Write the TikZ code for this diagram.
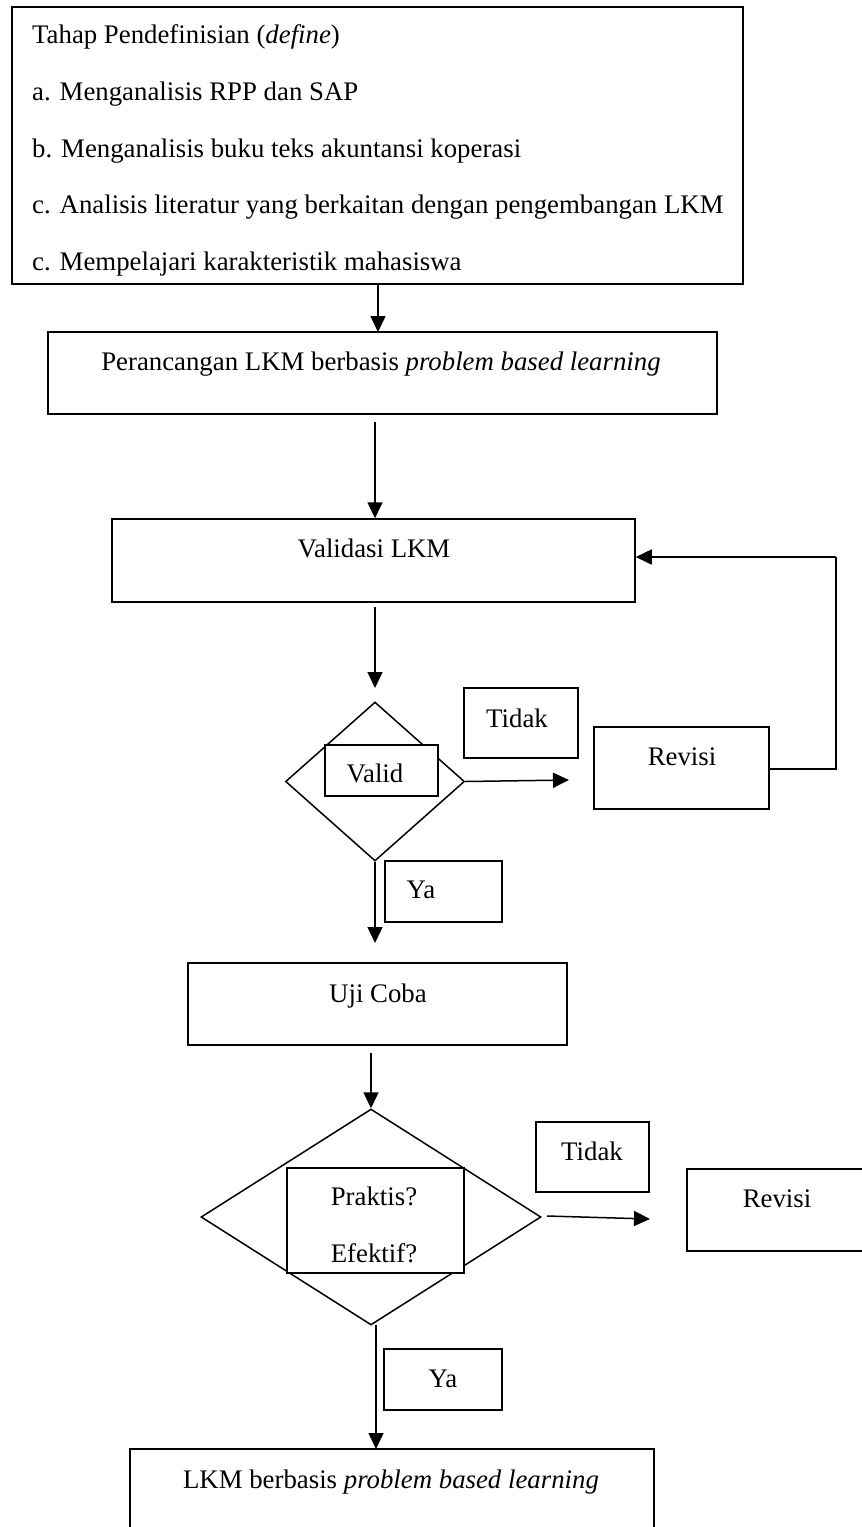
\documentclass[tikz,border=0pt]{standalone}
\usepackage{fontspec}
\setmainfont{Liberation Serif}
\usetikzlibrary{shapes.geometric,arrows.meta}
\begin{document}
\begin{tikzpicture}[x=1pt,y=-1pt,
  every node/.style={font=\fontsize{26.8}{30}\selectfont, inner sep=0pt},
  box/.style={draw, line width=1.5pt, rectangle},
  dec/.style={draw, line width=1.5pt, diamond},
  txt/.style={anchor=base},
  conn/.style={line width=1.5pt, -{Triangle[length=16pt,width=15pt]}},
  plain/.style={line width=1.5pt}]
\useasboundingbox (0,0) rectangle (862,1527);
% boxes
\node[box, minimum width=731pt, minimum height=277pt] (define) at (377.5,145.5) {};
\node[txt, anchor=base west] (t0) at (32,43) {Tahap Pendefinisian (\textit{define})};
\node[txt, anchor=base west] (t1) at (32,100) {a. Menganalisis RPP dan SAP};
\node[txt, anchor=base west] (t2) at (32,157) {b. Menganalisis buku teks akuntansi koperasi};
\node[txt, anchor=base west] (t3) at (32,213) {c. Analisis literatur yang berkaitan dengan pengembangan LKM};
\begin{scope}
\clip (20,240) rectangle (740,276);
\node[txt, anchor=base west] (t4) at (32,270) {c. Mempelajari karakteristik mahasiswa};
\end{scope}

\node[box, minimum width=669pt, minimum height=82pt] (design) at (382.5,373) {};
\node[txt] (designt) at (381,370) {Perancangan LKM berbasis \textit{problem based learning}};

\node[box, minimum width=523pt, minimum height=83pt] (valid) at (373.5,560.5) {};
\node[txt] (validt) at (374,557) {Validasi LKM};

\node[dec, minimum width=179pt, minimum height=159pt] (d1) at (375,781.5) {};
\node[box, fill=white, minimum width=113pt, minimum height=51pt] (v1) at (381.5,770.5) {};
\node[txt] (v1t) at (375,782) {Valid};

\node[box, minimum width=114pt, minimum height=70pt] (no1) at (521,723) {};
\node[txt] (no1t) at (517,727) {Tidak};

\node[box, minimum width=175pt, minimum height=82pt] (rev1) at (681.5,768) {};
\node[txt] (rev1t) at (682,765) {Revisi};

\node[box, minimum width=117pt, minimum height=61pt] (ya1) at (443.5,891.5) {};
\node[txt] (ya1t) at (421,898) {Ya};

\node[box, minimum width=379pt, minimum height=82pt] (uji) at (377.5,1004) {};
\node[txt] (ujit) at (378,1002) {Uji Coba};

\node[dec, minimum width=340pt, minimum height=216pt] (d2) at (371,1217) {};
\node[box, fill=white, minimum width=177pt, minimum height=105pt] (pe) at (375.5,1220.5) {};
\node[txt] (pet1) at (374,1205) {Praktis?};
\node[txt] (pet2) at (374,1262) {Efektif?};

\node[box, minimum width=113pt, minimum height=70pt] (no2) at (592.5,1157) {};
\node[txt] (no2t) at (592,1160) {Tidak};

\node[box, minimum width=190pt, minimum height=82pt] (rev2) at (782,1210) {};
\node[txt] (rev2t) at (777,1207) {Revisi};

\node[box, minimum width=118pt, minimum height=61pt] (ya2) at (443,1379.5) {};
\node[txt] (ya2t) at (443,1387) {Ya};

\node[box, minimum width=524pt, minimum height=110pt] (final) at (392,1504) {};
\node[txt] (finalt) at (391,1488) {LKM berbasis \textit{problem based learning}};

% connector free ends
\coordinate (c1) at (378,284);
\coordinate (c1e) at (378,332);
\coordinate (c2) at (375,422);
\coordinate (c3) at (375,607);
\coordinate (c3e) at (375,688);
\coordinate (c4e) at (569,780);
\coordinate (c5a) at (836,769);
\coordinate (c5b) at (836,557);
\coordinate (c6e) at (375,943);
\coordinate (c7) at (371,1053);
\coordinate (c8s) at (547,1216);
\coordinate (c8e) at (650,1219);
\coordinate (c9) at (376,1325);
\coordinate (c9e) at (376,1449);

% connectors
\draw[conn] (c1) -- (c1e);
\draw[conn] (c2) -- (c2 |- valid.north);
\draw[conn] (c3) -- (c3e);
\draw[conn] (d1.east) -- (c4e);
\draw[plain] (rev1.east |- c5a) -- (c5a) -- (c5b);
\draw[conn] (c5b) -- (valid.east |- c5b);
\draw[conn] (d1.south) -- (c6e);
\draw[conn] (c7) -- (d2.north);
\draw[conn] (c8s) -- (c8e);
\draw[conn] (c9) -- (c9e);
\end{tikzpicture}
\end{document}
